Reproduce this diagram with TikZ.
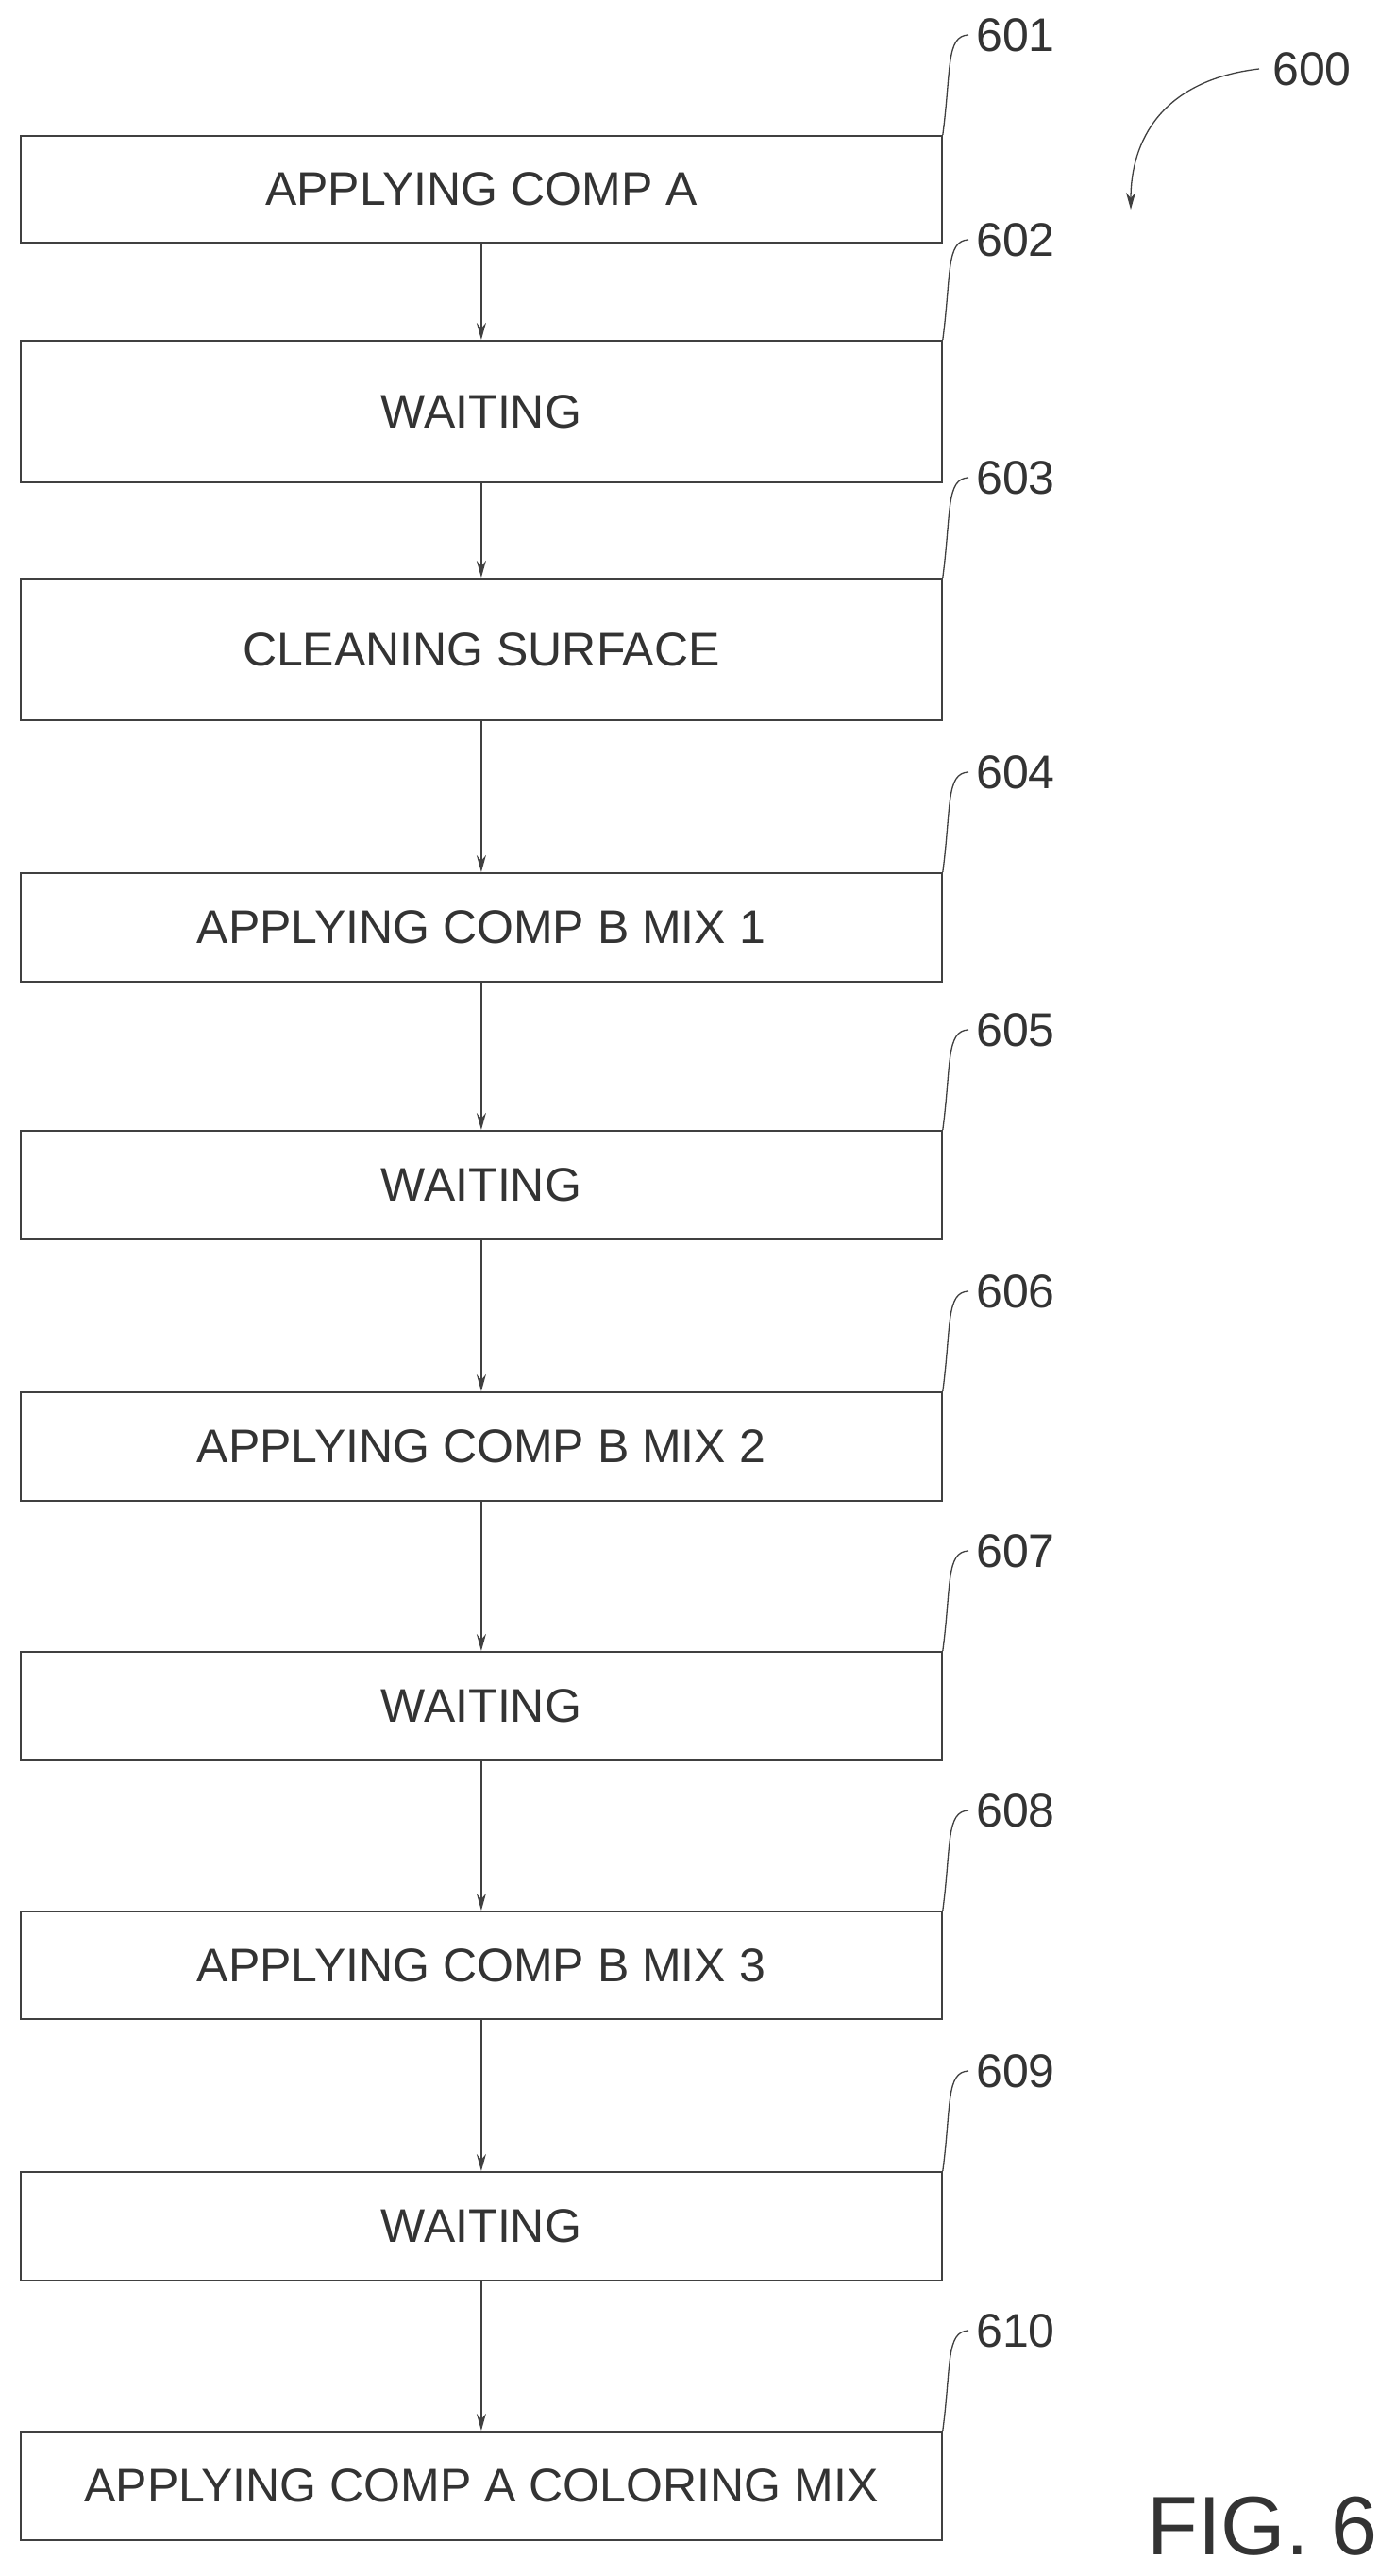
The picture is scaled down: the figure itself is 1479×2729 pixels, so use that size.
\documentclass[tikz,border=0pt]{standalone}
\usepackage{fontspec}
\setmainfont{Liberation Sans}
\usetikzlibrary{arrows.meta}
\begin{document}
\begin{tikzpicture}[x=1pt,y=-1pt,
  ink/.style={draw=black!75},
  box/.style={ink,line width=1.8pt,minimum width=976pt,anchor=north west,inner sep=0pt,font=\fontsize{50}{56}\selectfont,text=black!80},
  arr/.style={ink,line width=1.6pt,-{Stealth[length=18pt,width=10pt]}},
  lbl/.style={font=\fontsize{50}{56}\selectfont,text=black!80,anchor=west,inner sep=0pt},
  lead/.style={ink,line width=1.3pt}]
\useasboundingbox (0,0) rectangle (1479,2729);
\foreach \n/\t/\b/\txt in {601/143/256/APPLYING COMP A,602/360/510/WAITING,603/612/762/CLEANING SURFACE,604/924/1039/APPLYING COMP B MIX 1,605/1197/1312/WAITING,606/1474/1589/APPLYING COMP B MIX 2,607/1749/1864/WAITING,608/2024/2138/APPLYING COMP B MIX 3,609/2300/2415/WAITING,610/2575/2690/APPLYING COMP A COLORING MIX}{
  \pgfmathsetmacro\h{\b-\t}
  \node[box,minimum height=\h pt] (b\n) at (21,\t) {\txt};
  \node[lbl] (l\n) at (1034,\t-106) {\n};
  \draw[lead] (b\n.north east) .. controls (1008,\t-70) and (1002,\t-105) .. ([xshift=-8pt]l\n.west);
}
\foreach \a/\b in {601/602,602/603,603/604,604/605,605/606,606/607,607/608,608/609,609/610}{
  \draw[arr] (b\a.south) -- (b\b.north);
}
\node[lbl] (l600) at (1348,73) {600};
\coordinate (e600) at (1198,222);
\draw[lead,-{Stealth[length=18pt,width=10pt]}] ([xshift=-14pt]l600.west) .. controls (1230,85) and (1198,150) .. (e600);
\node[font=\fontsize{88}{100}\selectfont,text=black!80,anchor=south east,inner sep=0pt] (fig) at (1460,2708) {FIG. 6};
\end{tikzpicture}
\end{document}
